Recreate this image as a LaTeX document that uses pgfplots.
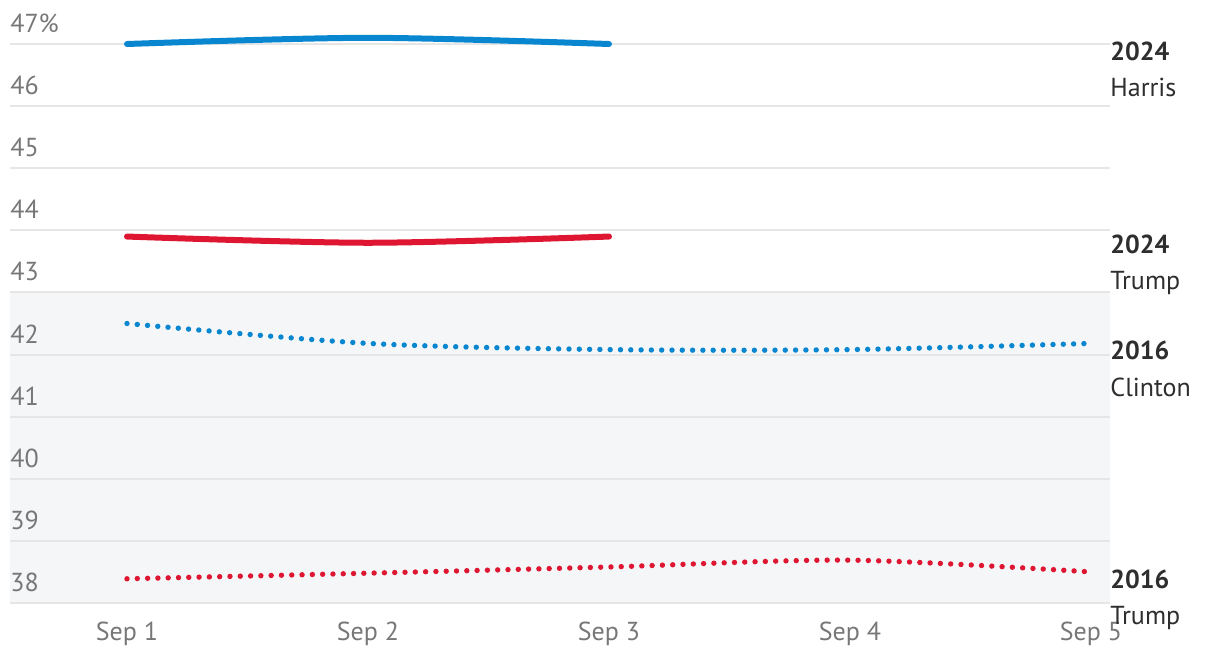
\documentclass[border=0pt]{standalone}
\usepackage{pgfplots}
\pgfplotsset{compat=1.18}
\usepackage{fontspec}
\setmainfont{PT Sans}
\definecolor{dblue}{HTML}{0887D0}
\definecolor{dred}{HTML}{DE1632}
\definecolor{gridc}{HTML}{E6E6E6}
\definecolor{shade}{HTML}{F5F6F8}
\definecolor{tickc}{HTML}{777777}
\definecolor{labc}{HTML}{2E2E2E}
\tikzset{
  lab/.style={anchor=base west, inner sep=0pt, text=labc, font=\fontsize{13}{15}\selectfont},
  labb/.style={anchor=base west, inner sep=0pt, text=labc, font=\fontsize{13}{15}\selectfont\bfseries},
}
\begin{document}
\begin{tikzpicture}
\begin{axis}[
  set layers,
  at={(0pt,0pt)}, anchor=south west,
  scale only axis,
  width=550pt, height=279.5pt,
  xmin=0.5145, xmax=5.079,
  ymin=38, ymax=47,
  clip=false,
  axis line style={draw=none},
  tick style={draw=none},
  ymajorgrids,
  grid style={gridc, line width=1pt},
  ytick={38,39,40,41,42,43,44,45,46,47},
  yticklabels={38,39,40,41,42,43,44,45,46,47\%},
  xtick={1,2,3,4,5},
  xticklabels={Sep 1,Sep 2,Sep 3,Sep 4,Sep 5},
  /pgf/number format/assume math mode=true,
  yticklabel style={anchor=south west, inner sep=0pt, yshift=5.5pt, font=\fontsize{13}{15}\selectfont, text=tickc},
  xticklabel style={anchor=north, inner sep=0pt, yshift=-9.5pt, font=\fontsize{13}{15}\selectfont, text=tickc},
]
\addplot[fill=shade, draw=none, on layer=axis background, forget plot] coordinates {(0.5145,38) (5.079,38) (5.079,43) (0.5145,43)} -- cycle;

% 2024 Harris
\addplot[dblue, line width=3pt, line cap=round, smooth, tension=0.5] coordinates {(1,47.0) (2,47.1) (3,47.0)};
% 2024 Trump
\addplot[dred, line width=3pt, line cap=round, smooth, tension=0.5] coordinates {(1,43.9) (2,43.8) (3,43.9)};
% 2016 Clinton
\addplot[dblue, line width=2.7pt, line cap=round, dash pattern=on 0pt off 5.15pt, smooth, tension=0.5] coordinates {(1,42.5) (2,42.18) (3,42.08) (4,42.08) (5,42.18)};
% 2016 Trump
\addplot[dred, line width=2.7pt, line cap=round, dash pattern=on 0pt off 5.15pt, smooth, tension=0.5] coordinates {(1,38.39) (2,38.48) (3,38.58) (4,38.69) (5,38.5)};

\node[labb, yshift=-8.25pt] at (axis cs:5.079,47.0) {2024};
\node[lab, yshift=-26.25pt] at (axis cs:5.079,47.0) {Harris};
\node[labb, yshift=-8.25pt] at (axis cs:5.079,43.9) {2024};
\node[lab, yshift=-26.25pt] at (axis cs:5.079,43.9) {Trump};
\node[labb, yshift=-8.25pt] at (axis cs:5.079,42.18) {2016};
\node[lab, yshift=-26.75pt] at (axis cs:5.079,42.18) {Clinton};
\node[labb, yshift=-8.25pt] at (axis cs:5.079,38.5) {2016};
\node[lab, yshift=-26.25pt] at (axis cs:5.079,38.5) {Trump};
\end{axis}
\pgfresetboundingbox
\useasboundingbox (-5pt,-27.5pt) rectangle (605pt,301.5pt);
\end{tikzpicture}
\end{document}
